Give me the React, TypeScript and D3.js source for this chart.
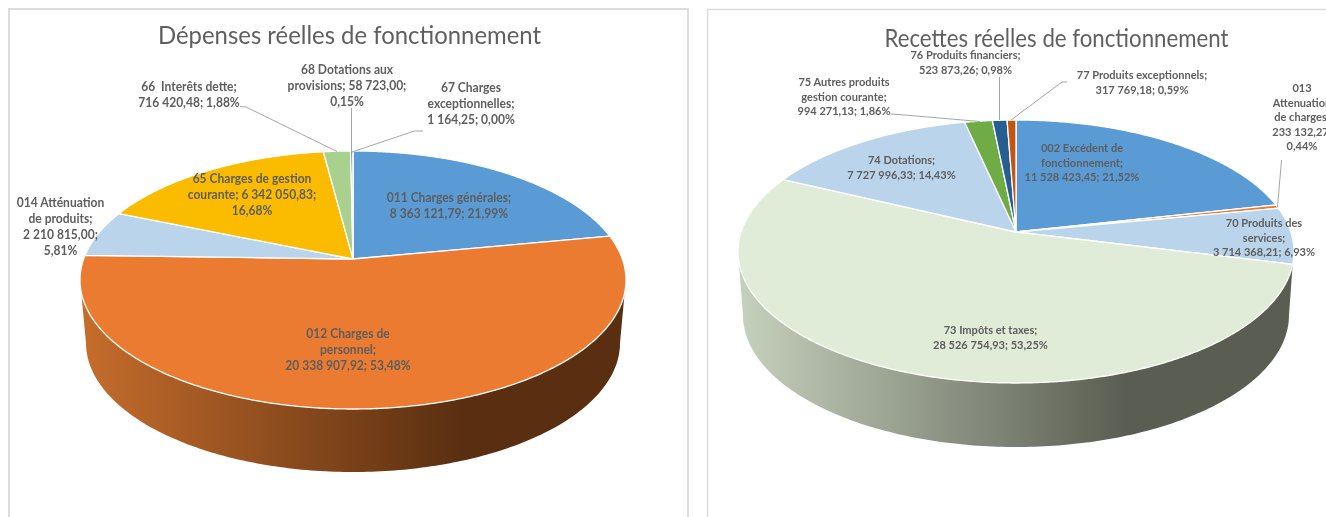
import React from "react";
import * as d3 from "d3";

const expenseCategories = ["011 Charges générales", "012 Charges de personnel", "014 Atténuation de produits", "65 Charges de gestion courante", "66 Interêts dette", "68 Dotations aux provisions", "67 Charges exceptionnelles"];
const expenseValues = [8363121.79, 20338907.92, 2210815.0, 6342050.83, 716420.48, 58723.0, 1164.25];
const expenseColors = ["#5b9bd5", "#ea7b31", "#bad5eb", "#fbbc00", "#a9d08e", "#255e91", "#9e480e"];
const expenseLabels = [
  ["011 Charges générales;", "8 363 121,79; 21,99%"],
  ["012 Charges de", "personnel;", "20 338 907,92; 53,48%"],
  ["014 Atténuation", "de produits;", "2 210 815,00;", "5,81%"],
  ["65 Charges de gestion", "courante; 6 342 050,83;", "16,68%"],
  ["66  Interêts dette;", "716 420,48; 1,88%"],
  ["68 Dotations aux", "provisions; 58 723,00;", "0,15%"],
  ["67 Charges", "exceptionnelles;", "1 164,25; 0,00%"],
];

const revenueCategories = ["002 Excédent de fonctionnement", "013 Attenuation de charges", "70 Produits des services", "73 Impôts et taxes", "74 Dotations", "75 Autres produits gestion courante", "76 Produits financiers", "77 Produits exceptionnels"];
const revenueValues = [11528423.45, 233132.27, 3714368.21, 28526754.93, 7727996.33, 994271.13, 523873.26, 317769.18];
const revenueColors = ["#5b9bd5", "#ed7d31", "#bad5eb", "#e0ecd7", "#bad5eb", "#6fac46", "#255e91", "#c0560f"];
const revenueLabels = [
  ["002 Excédent de", "fonctionnement;", "11 528 423,45; 21,52%"],
  ["013", "Attenuation", "de charges;", "233 132,27;", "0,44%"],
  ["70 Produits des", "services;", "3 714 368,21; 6,93%"],
  ["73 Impôts et taxes;", "28 526 754,93; 53,25%"],
  ["74 Dotations;", "7 727 996,33; 14,43%"],
  ["75 Autres produits", "gestion courante;", "994 271,13; 1,86%"],
  ["76 Produits financiers;", "523 873,26; 0,98%"],
  ["77 Produits exceptionnels;", "317 769,18; 0,59%"],
];

// layout only (label anchor: centre x, centre y of first line)
const expenseLabelAt: [number, number][] = [[449, 198], [348, 334], [60.5, 203], [252, 179], [189, 87], [347, 70], [471, 88]];
const revenueLabelAt: [number, number][] = [[1082, 148], [1302, 88], [1264, 223], [990.5, 330], [901.5, 160], [844, 82], [965.5, 55], [1142, 75]];
const expenseLeaders: [number, number][][] = [
  [[240, 106.5], [246, 107], [337, 151.5]],
  [[351.5, 108], [351.5, 152]],
  [[423, 131], [414.5, 131], [352, 152]],
];
const revenueLeaders: [number, number][][] = [
  [[891, 114], [899, 114.5], [980, 121.5]],
  [[999.5, 77], [999.5, 120]],
  [[1067, 82], [1062, 82], [1011, 120]],
  [[1281.5, 160], [1277.5, 207]],
];

type Geo = { cx: number; topY: number; apexY: number; frontY: number; halfW: number; wallCy: number; wallRx: number; wallRy: number; wallEnd: number };

function Pie3D(p: {
  id: string; title: string; titleX: number; titleY: number; titleW: number;
  values: number[]; colors: string[]; labels: string[][]; labelAt: [number, number][];
  leaders: [number, number][][]; geo: Geo; grad: [number, number, string, string];
  fontSize: number; lineH: number; hScale: number; categories: string[];
}) {
  const g = p.geo;
  const near = g.frontY - g.apexY, far = g.apexY - g.topY;
  const k = (near - far) / (near + far);
  const b = far * (1 + k);
  const a = g.halfW * Math.sqrt(1 - k * k);
  const proj = (t: number): [number, number] => {
    const u = Math.sin(t), v = -Math.cos(t), d = 1 - k * v;
    return [g.cx + (a * u) / d, g.apexY + (b * v) / d];
  };
  const TAU = Math.PI * 2;
  const arcs = d3.pie<number>().sort(null).value((d) => d)(p.values);
  const line = d3.line();
  const sample = (t0: number, t1: number) => {
    const n = Math.max(2, Math.ceil(Math.abs(t1 - t0) / 0.01));
    return d3.range(n + 1).map((i) => proj(t0 + ((t1 - t0) * i) / n));
  };
  const slicePath = (t0: number, t1: number) => line([[g.cx, g.apexY], ...sample(t0, t1)])! + "Z";

  const leftWide = TAU - (Math.PI - Math.acos(k));
  const topEdge = sample(g.wallEnd, leftWide);
  const wallBottom = d3.range(0, 181).map((i): [number, number] => {
    const th = (i / 180) * Math.PI;
    return [g.cx + g.wallRx * Math.cos(th), g.wallCy + g.wallRy * Math.sin(th)];
  });
  const wall = line([...topEdge, ...wallBottom.slice().reverse()])! + "Z";

  const font = "Lato, 'Open Sans', sans-serif";
  return (
    <g>
      <defs>
        <linearGradient id={p.id} gradientUnits="userSpaceOnUse" x1={p.grad[0]} x2={p.grad[1]} y1={0} y2={0}>
          <stop offset="0" stopColor={p.grad[2]} />
          <stop offset="1" stopColor={p.grad[3]} />
        </linearGradient>
      </defs>
      <text transform={`translate(${p.titleX},${p.titleY})`} textAnchor="middle" textLength={p.titleW} lengthAdjust="spacingAndGlyphs" fontFamily={font} fontWeight={400} fontSize={25} fill="#5f5f5f">{p.title}</text>
      <path d={wall} fill={`url(#${p.id})`} />
      {arcs.map((s, i) => (
        <path key={p.categories[i]} d={slicePath(s.startAngle, s.endAngle)} fill={p.colors[i]} stroke="#fff" strokeWidth={1.3} strokeLinejoin="round" />
      ))}
      {p.leaders.map((l, i) => (
        <path key={i} d={line(l)!} fill="none" stroke="#a6a6a6" strokeWidth={1} />
      ))}
      {p.labels.map((ls, i) => (
        <g key={i} transform={`translate(${p.labelAt[i][0]},${p.labelAt[i][1]}) scale(${p.hScale},1)`}>
          {ls.map((t, j) => (
            <text key={j} x={0} y={j * p.lineH} dy="0.35em" textAnchor="middle" fontFamily={font} fontWeight={700} fontSize={p.fontSize} fill="#5e5e5e" style={{ whiteSpace: "pre" }}>{t}</text>
          ))}
        </g>
      ))}
    </g>
  );
}

export default function App() {
  return (
    <svg width={1326} height={517} style={{ position: "absolute", left: 0, top: 0, display: "block", filter: "blur(0.4px)" }}>
      <rect width={1326} height={517} fill="#fff" />
      <path d="M9,517V9H688V517" fill="none" stroke="#dcdcdc" strokeWidth={2} />
      <path d="M707.5,517V9.5H1326" fill="none" stroke="#dcdcdc" strokeWidth={1.5} />
      <Pie3D id="wallA" title="Dépenses réelles de fonctionnement" titleX={349.5} titleY={44} titleW={383}
        values={expenseValues} colors={expenseColors} labels={expenseLabels} labelAt={expenseLabelAt} leaders={expenseLeaders} categories={expenseCategories}
        geo={{ cx: 353, topY: 151, apexY: 259, frontY: 409, halfW: 273, wallCy: 343, wallRx: 267, wallRy: 129, wallEnd: 1.72 }}
        grad={[80, 460, "#c66d2c", "#5a2f11"]} fontSize={12.5} lineH={15.8} hScale={0.965} />
      <Pie3D id="wallB" title="Recettes réelles de fonctionnement" titleX={1056.5} titleY={47} titleW={344}
        values={revenueValues} colors={revenueColors} labels={revenueLabels} labelAt={revenueLabelAt} leaders={revenueLeaders} categories={revenueCategories}
        geo={{ cx: 1016, topY: 120, apexY: 232, frontY: 383, halfW: 278, wallCy: 315, wallRx: 273, wallRy: 132, wallEnd: 1.815 }}
        grad={[738, 1125, "#c6d1bd", "#5a5e52"]} fontSize={11.5} lineH={14.5} hScale={0.96} />
    </svg>
  );
}
